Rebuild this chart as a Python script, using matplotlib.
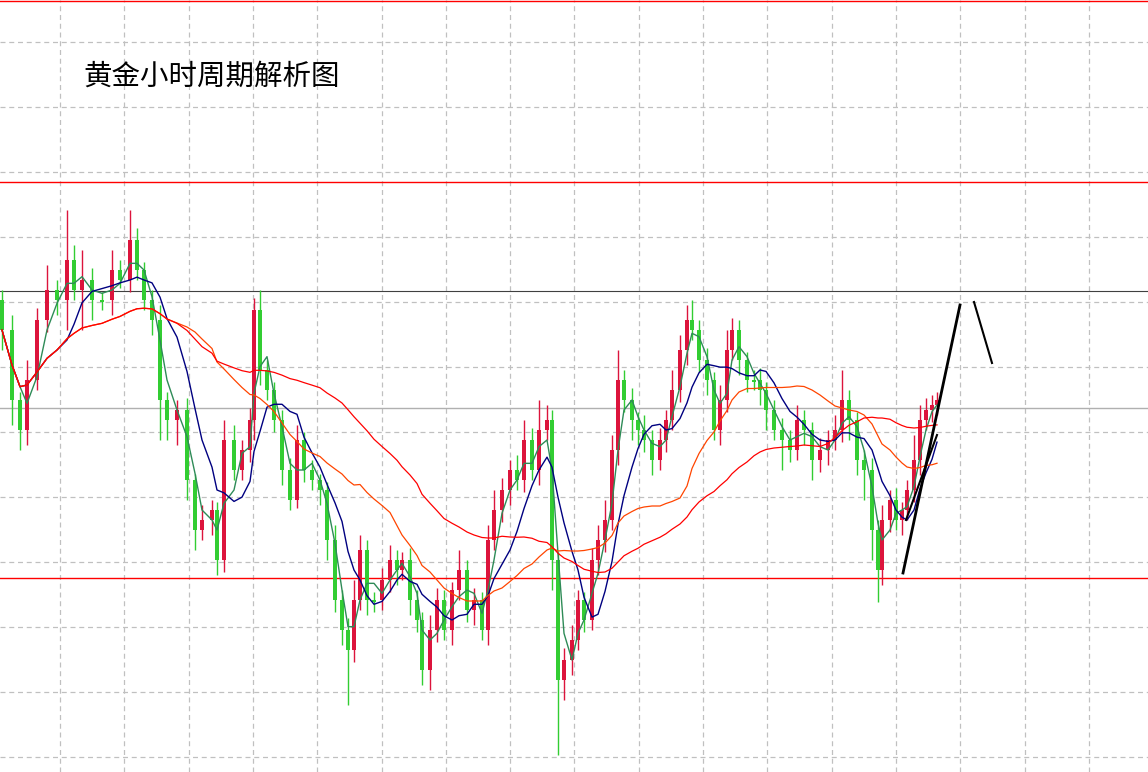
import numpy as np
import pandas as pd
import matplotlib
matplotlib.use("Agg")
import matplotlib.pyplot as plt

plt.rcParams['font.family'] = ['Noto Sans CJK SC', 'DejaVu Sans']

# candle positions along the time axis (chart units)
times = [0, 10, 18, 25, 35, 45, 55, 65, 72, 80, 90, 100, 110, 118, 128, 135, 142, 150,
         158, 165, 175, 185, 193, 200, 210, 215, 222, 232, 240, 248, 252, 258, 265, 272, 280, 288,
         295, 302, 310, 318, 325, 333, 340, 346, 352, 358, 365, 372, 380, 388, 395, 400, 408, 415,
         420, 428, 435, 442, 450, 457, 465, 472, 480, 486, 492, 500, 508, 515, 522, 530, 537, 545,
         550, 556, 562, 570, 576, 582, 590, 596, 603, 610, 616, 622, 630, 636, 642, 650, 658, 664,
         670, 678, 685, 690, 697, 705, 712, 718, 725, 730, 737, 745, 752, 758, 764, 772, 780, 788,
         795, 802, 810, 818, 826, 833, 840, 847, 855, 862, 870, 876, 880, 888, 894, 900, 905, 912,
         918, 924, 930, 935]
# price expressed in chart units (larger = lower on screen)
closes = [330, 400, 430, 380, 320, 290, 300, 260, 290, 280, 300, 300, 270, 280, 240, 270, 300, 320,
          400, 420, 410, 480, 530, 520, 510, 560, 440, 470, 450, 420, 310, 370, 390, 420, 470, 500,
          440, 470, 480, 490, 540, 600, 630, 650, 600, 550, 600, 600, 580, 560, 570, 560, 600, 620,
          670, 630, 600, 630, 590, 570, 610, 600, 630, 540, 510, 490, 470, 480, 440, 470, 430, 420,
          560, 680, 660, 640, 600, 620, 560, 540, 520, 450, 380, 400, 420, 430, 440, 460, 440, 420,
          390, 350, 320, 330, 360, 380, 430, 400, 350, 330, 360, 380, 380, 390, 410, 430, 440, 450,
          420, 430, 460, 450, 440, 430, 400, 420, 460, 470, 530, 570, 520, 500, 520, 510, 490, 460,
          420, 410, 405, 400]
opens = [300] + closes[:-1]
wick_up = [10, 15, 8, 20, 12, 25, 10, 50, 15, 30, 12, 8, 20, 10, 30, 12, 8, 10, 15, 8, 10, 12, 6, 15,
           10, 8, 20, 15, 10, 12, 12, 20, 10, 8, 10, 12, 15, 8, 10, 6, 8, 15, 10, 12, 20, 15, 10, 8,
           12, 15, 10, 8, 12, 10, 8, 15, 12, 10, 8, 20, 10, 12, 8, 15, 20, 12, 10, 15, 20, 12, 30, 15,
           10, 8, 12, 15, 10, 8, 12, 15, 20, 15, 30, 10, 12, 8, 15, 10, 12, 10, 20, 15, 15, 20, 10, 12,
           8, 15, 20, 12, 10, 8, 10, 12, 8, 10, 12, 10, 15, 10, 8, 12, 10, 15, 30, 10, 8, 10, 12, 10, 15,
           10, 12, 8, 10, 25, 15, 12, 10, 8]
wick_dn = [20, 25, 20, 15, 10, 12, 15, 30, 10, 40, 20, 10, 15, 8, 12, 10, 10, 15, 40, 20, 25, 20, 20, 10,
           15, 15, 12, 10, 10, 12, 20, 15, 10, 12, 15, 10, 8, 12, 10, 15, 20, 12, 15, 55, 12, 10, 15, 12,
           10, 12, 15, 10, 15, 12, 15, 20, 12, 10, 15, 10, 12, 15, 10, 15, 10, 12, 15, 10, 12, 10, 15, 10,
           30, 75, 20, 15, 10, 12, 10, 15, 12, 10, 15, 12, 20, 15, 12, 15, 10, 12, 10, 12, 15, 10, 12, 15,
           10, 15, 12, 10, 15, 12, 10, 15, 20, 10, 30, 12, 10, 15, 20, 12, 15, 10, 12, 20, 15, 30, 30, 32,
           15, 12, 10, 15, 10, 12, 15, 10, 12]

n = len(closes)
wick_up = (wick_up + [10] * n)[:n]
wick_dn = (wick_dn + [10] * n)[:n]
xs = np.array(times[:n], dtype=float) + 2

fig = plt.figure(figsize=(11.48, 7.72), dpi=100)
ax = fig.add_axes([0, 0, 1, 1])
ax.set_xlim(0, 1148)
ax.set_ylim(772, 0)
ax.axis('off')

for gx in np.arange(60, 1148, 64.3):
    ax.axvline(gx, color='#c0c0c0', ls=(0, (4, 3)), lw=0.9, zorder=0)
for gy in np.arange(42, 772, 65):
    ax.axhline(gy, color='#c0c0c0', ls=(0, (4, 3)), lw=0.9, zorder=0)

for yl in [1, 182, 578]:
    ax.axhline(yl, color='#ff0000', lw=1.0, zorder=1)
ax.axhline(291, color='#404040', lw=0.8, zorder=1)
ax.axhline(408, color='#b0b0b0', lw=1.0, zorder=1)

w = 3.6
for x, o, c, hu, hd in zip(xs, opens, closes, wick_up, wick_dn):
    up = c < o
    col = '#dc143c' if up else '#32cd32'
    top, bot = min(o, c), max(o, c)
    ax.vlines(x, top - hu, bot + hd, color=col, lw=1, zorder=3)
    ax.bar(x, max(bot - top, 1.5), bottom=top, width=w, color=col, zorder=3, lw=0)

s = pd.Series(closes, dtype=float)
for win, col, lw in [(3, '#2e8b57', 1.0), (7, '#000080', 1.0), (20, '#ff4500', 0.9), (40, '#ff0000', 0.9)]:
    ax.plot(xs, s.rolling(win, min_periods=1).mean(), color=col, lw=lw, zorder=4)

ax.plot([903, 960], [573, 305], color='black', lw=2, zorder=5)
ax.plot([906, 937], [520, 435], color='black', lw=1.5, zorder=5)
ax.plot([974, 992], [302, 363], color='black', lw=1.5, zorder=5)

ax.text(83, 77, '黄金小时周期解析图', fontsize=20.5, va='center', ha='left', color='black')

fig.savefig('out.png', dpi=100)
